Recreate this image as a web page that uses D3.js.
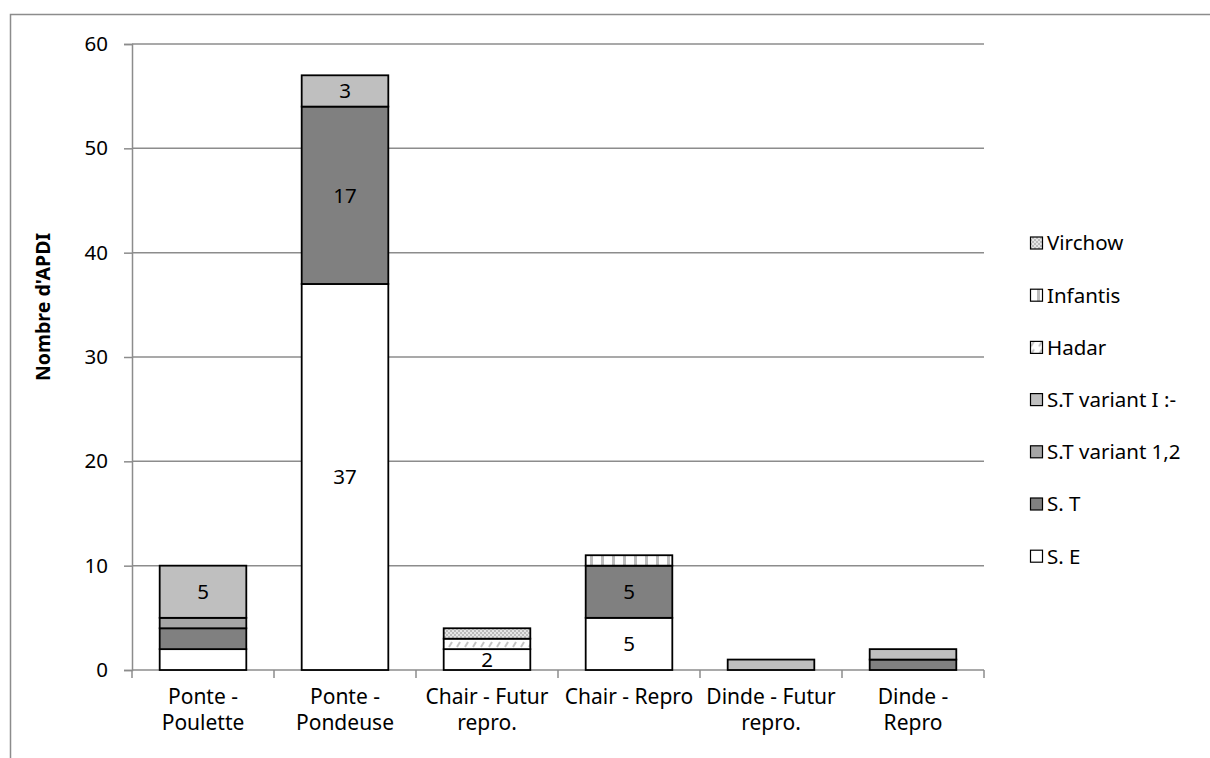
<!DOCTYPE html>
<html>
<head>
<meta charset="utf-8">
<script src="https://cdn.jsdelivr.net/npm/d3@7"></script>
<style>
  html, body { margin: 0; padding: 0; background: #fff; }
  svg { display: block; }
  text { font-family: "Noto Sans", "Open Sans", sans-serif; fill: #000; }
</style>
</head>
<body>
<script>
// Categories (two-line axis labels)
const categories = [
  ["Ponte -", "Poulette"],
  ["Ponte -", "Pondeuse"],
  ["Chair - Futur", "repro."],
  ["Chair - Repro"],
  ["Dinde - Futur", "repro."],
  ["Dinde -", "Repro"]
];

// Series in stacking order (bottom to top)
const seriesNames = ["S. E", "S. T", "S.T variant 1,2", "S.T variant I :-", "Hadar", "Infantis", "Virchow"];
const sE       = [2, 37, 2, 5, 0, 0];
const sT       = [2, 17, 0, 5, 0, 1];
const stVar12  = [1, 0, 0, 0, 0, 0];
const stVarI   = [5, 3, 0, 0, 1, 1];
const hadar    = [0, 0, 1, 0, 0, 0];
const infantis = [0, 0, 0, 1, 0, 0];
const virchow  = [0, 0, 1, 0, 0, 0];
const seriesValues = [sE, sT, stVar12, stVarI, hadar, infantis, virchow];

// Segments that carry a value label: [series index, category index]
const labelled = [[3, 0], [0, 1], [1, 1], [3, 1], [0, 2], [0, 3], [1, 3]];

const yTicks = [0, 10, 20, 30, 40, 50, 60];
const yTitle = "Nombre d'APDI";

const W = 1210, H = 758;
const plot = { left: 132, right: 984, top: 44, bottom: 670 };
const FS = 20.5;

const svg = d3.select("body").append("svg").attr("width", W).attr("height", H);

// Fill patterns
const defs = svg.append("defs");
const pHadar = defs.append("pattern").attr("id", "pat-hadar").attr("patternUnits", "userSpaceOnUse")
  .attr("width", 8).attr("height", 8);
pHadar.append("rect").attr("width", 8).attr("height", 8).attr("fill", "#fff");
pHadar.append("path").attr("d", "M1,7 L4,2").attr("stroke", "#c4c4c4").attr("stroke-width", 2);

const pInf = defs.append("pattern").attr("id", "pat-infantis").attr("patternUnits", "userSpaceOnUse")
  .attr("width", 11).attr("height", 11);
pInf.append("rect").attr("width", 11).attr("height", 11).attr("fill", "#fff");
pInf.append("rect").attr("x", 7).attr("width", 3).attr("height", 11).attr("fill", "#bdbdbd");

const pVir = defs.append("pattern").attr("id", "pat-virchow").attr("patternUnits", "userSpaceOnUse")
  .attr("width", 4).attr("height", 4);
pVir.append("rect").attr("width", 4).attr("height", 4).attr("fill", "#e6e6e6");
pVir.append("rect").attr("width", 2).attr("height", 2).attr("fill", "#bcbcbc");
pVir.append("rect").attr("x", 2).attr("y", 2).attr("width", 2).attr("height", 2).attr("fill", "#bcbcbc");

const fills = ["#ffffff", "#808080", "#a6a6a6", "#bfbfbf", "url(#pat-hadar)", "url(#pat-infantis)", "url(#pat-virchow)"];

// Outer chart frame
svg.append("rect").attr("x", 10.5).attr("y", 14.5).attr("width", W).attr("height", H)
  .attr("fill", "none").attr("stroke", "#8c8c8c").attr("stroke-width", 1.5);

const x = d3.scaleBand().domain(d3.range(categories.length)).range([plot.left, plot.right]).padding(0);
const y = d3.scaleLinear().domain([0, 60]).range([plot.bottom, plot.top]);
const barW = x.bandwidth() * 0.61;

// Gridlines
svg.append("g").selectAll("line").data(yTicks.filter(t => t > 0)).join("line")
  .attr("x1", plot.left).attr("x2", plot.right)
  .attr("y1", d => y(d)).attr("y2", d => y(d))
  .attr("stroke", "#8c8c8c").attr("stroke-width", 1.5);

// Y axis
const yAxis = svg.append("g").attr("transform", `translate(${plot.left},0)`)
  .call(d3.axisLeft(y).tickValues(yTicks).tickSize(8).tickPadding(16));
yAxis.select(".domain").attr("stroke", "#8c8c8c").attr("stroke-width", 1.5);
yAxis.selectAll(".tick line").attr("stroke", "#8c8c8c").attr("stroke-width", 1.5);
yAxis.selectAll(".tick text").style("font-size", FS + "px").attr("font-family", null).attr("fill", "#000");

// X axis: baseline and boundary ticks
const xBounds = d3.range(categories.length + 1).map(i => i < categories.length ? x(i) : plot.right);
svg.append("line").attr("x1", plot.left).attr("x2", plot.right).attr("y1", y(0)).attr("y2", y(0))
  .attr("stroke", "#8c8c8c").attr("stroke-width", 1.5);
svg.append("g").selectAll("line").data(xBounds).join("line")
  .attr("x1", d => d).attr("x2", d => d).attr("y1", y(0)).attr("y2", y(0) + 8)
  .attr("stroke", "#8c8c8c").attr("stroke-width", 1.5);

// Category labels
const catG = svg.append("g").selectAll("text").data(categories).join("text")
  .attr("x", (d, i) => x(i) + x.bandwidth() / 2)
  .attr("y", y(0) + 34)
  .attr("text-anchor", "middle")
  .style("font-size", "21px");
catG.selectAll("tspan").data(d => d).join("tspan")
  .attr("x", function () { return this.parentNode.getAttribute("x"); })
  .attr("dy", (d, i) => i === 0 ? 0 : 26)
  .text(d => d);

// Stacked bars
const stackData = categories.map((c, i) => {
  const o = { i };
  seriesNames.forEach((s, k) => { o[s] = seriesValues[k][i]; });
  return o;
});
const stacked = d3.stack().keys(seriesNames)(stackData);

const barsG = svg.append("g");
stacked.forEach((layer, k) => {
  barsG.append("g").selectAll("rect").data(layer.filter(d => d[1] - d[0] > 0)).join("rect")
    .attr("x", d => x(d.data.i) + (x.bandwidth() - barW) / 2)
    .attr("width", barW)
    .attr("y", d => y(d[1]))
    .attr("height", d => y(d[0]) - y(d[1]))
    .attr("fill", fills[k])
    .attr("stroke", "#000").attr("stroke-width", 1.8);
});

// Value labels
svg.append("g").selectAll("text").data(labelled).join("text")
  .attr("x", d => x(d[1]) + x.bandwidth() / 2)
  .attr("y", d => {
    const seg = stacked[d[0]][d[1]];
    return (y(seg[0]) + y(seg[1])) / 2;
  })
  .attr("dy", "0.36em")
  .attr("text-anchor", "middle")
  .style("font-size", FS + "px")
  .text(d => seriesValues[d[0]][d[1]]);

// Y axis title
svg.append("text")
  .attr("transform", `translate(50,307) rotate(-90)`)
  .attr("text-anchor", "middle")
  .style("font-size", "19.5px").style("font-weight", "bold")
  .text(yTitle);

// Legend (reverse stacking order, as listed top to bottom)
const legendItems = seriesNames.map((s, k) => ({ s, k })).reverse();
const lg = svg.append("g").selectAll("g").data(legendItems).join("g")
  .attr("transform", (d, i) => `translate(1030,${243 + i * 52.2})`);
lg.append("rect").attr("x", 0.5).attr("y", -6).attr("width", 12).attr("height", 12)
  .attr("fill", d => fills[d.k]).attr("stroke", "#000").attr("stroke-width", 1.2);
lg.append("text").attr("x", 17).attr("dy", "0.36em").style("font-size", FS + "px").text(d => d.s);
</script>
</body>
</html>
